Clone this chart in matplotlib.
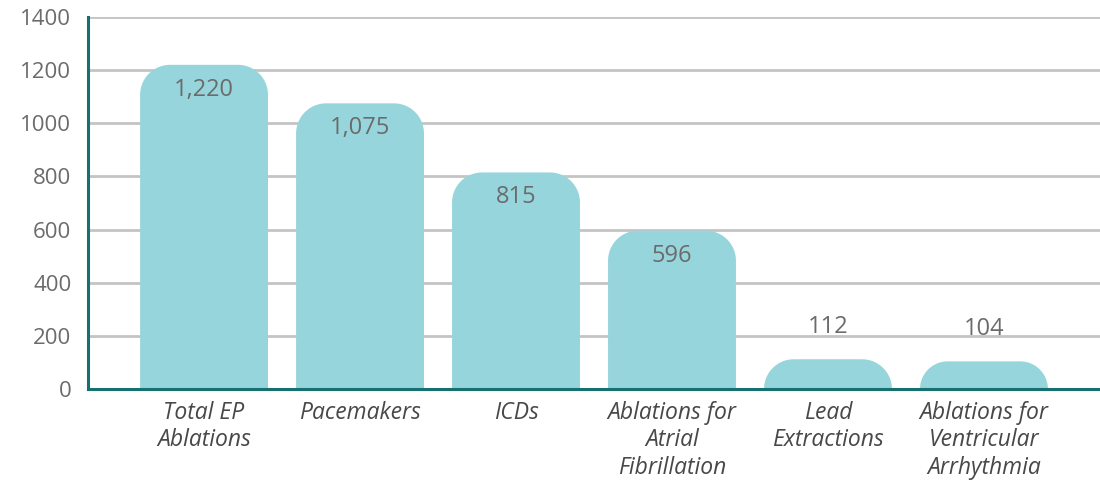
import numpy as np
from matplotlib import pyplot as plt
from matplotlib.path import Path
from matplotlib.patches import PathPatch

categories = [
    "Total EP\nAblations",
    "Pacemakers",
    "ICDs",
    "Ablations for\nAtrial\nFibrillation",
    "Lead\nExtractions",
    "Ablations for\nVentricular\nArrhythmia",
]
counts = [1220, 1075, 815, 596, 112, 104]
value_labels = ["1,220", "1,075", "815", "596", "112", "104"]
yticks = [0, 200, 400, 600, 800, 1000, 1200, 1400]

BAR_COLOR = "#96d5db"
AXIS_COLOR = "#16706f"
GRID_COLOR = "#c4c4c4"
TEXT_COLOR = "#6b6b6b"
LABEL_COLOR = "#484848"
FONT = "Open Sans"


def rounded_bar(ax, x, height, width, radius_px):
    # top corners rounded with a circular radius in screen pixels
    fig = ax.figure
    fig.canvas.draw()
    bbox = ax.get_window_extent()
    x0, x1 = ax.get_xlim()
    y0, y1 = ax.get_ylim()
    px_x = bbox.width / (x1 - x0)
    px_y = bbox.height / (y1 - y0)
    r_px = min(radius_px, height * px_y, width * px_x / 2)
    rx = r_px / px_x
    ry = r_px / px_y
    left, right = x - width / 2, x + width / 2
    t = np.linspace(0, np.pi / 2, 20)
    verts = [(left, 0), (right, 0)]
    # right corner
    for a in t:
        verts.append((right - rx + rx * np.cos(a), height - ry + ry * np.sin(a)))
    # left corner
    for a in t:
        verts.append((left + rx - rx * np.sin(a), height - ry + ry * np.cos(a)))
    verts.append((left, 0))
    codes = [Path.MOVETO] + [Path.LINETO] * (len(verts) - 2) + [Path.CLOSEPOLY]
    ax.add_patch(PathPatch(Path(verts, codes), facecolor=BAR_COLOR,
                           edgecolor="none", zorder=2))


fig = plt.figure(figsize=(11, 4.87), dpi=100)
ax = fig.add_axes([0.08, 0.2012, 0.92, 0.7639])

xs = np.arange(len(categories))
ax.set_xlim(-0.744, len(categories) - 1 + 0.744)
ax.set_ylim(0, 1400)

for x, v in zip(xs, counts):
    rounded_bar(ax, x, v, 0.82, 30)

for x, v, lab in zip(xs, counts, value_labels):
    if v > 300:
        ax.annotate(lab, (x, v), xytext=(0, -18), textcoords="offset points",
                    ha="center", va="center", fontsize=17, color=TEXT_COLOR,
                    family=FONT, zorder=3)
    else:
        ax.annotate(lab, (x, v), xytext=(0, 23), textcoords="offset points",
                    ha="center", va="center", fontsize=17, color=TEXT_COLOR,
                    family=FONT, zorder=3)

ax.set_yticks(yticks)
ax.set_yticklabels([str(t) for t in yticks], fontsize=16, color=TEXT_COLOR,
                   family=FONT)
ax.set_xticks(xs)
ax.set_xticklabels(categories, fontsize=16.5, color=LABEL_COLOR, family=FONT,
                   style="italic", linespacing=1.2, va="top")
ax.tick_params(axis="y", length=0, pad=12)
ax.tick_params(axis="x", length=0, pad=8.5)

ax.grid(axis="y", color=GRID_COLOR, linewidth=2, zorder=0)
ax.set_axisbelow(True)

for side in ["top", "right"]:
    ax.spines[side].set_visible(False)
for side in ["left", "bottom"]:
    ax.spines[side].set_color(AXIS_COLOR)
    ax.spines[side].set_linewidth(2.2)
    ax.spines[side].set_zorder(4)

fig.savefig("out.png", dpi=100)
